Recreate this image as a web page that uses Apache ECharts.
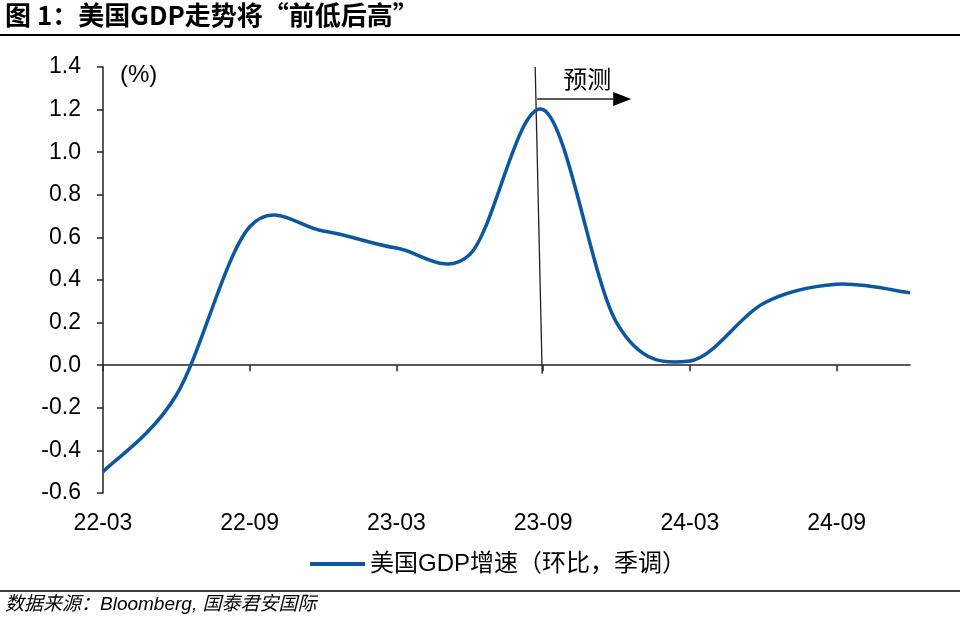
<!DOCTYPE html>
<html>
<head>
<meta charset="utf-8">
<script src="https://cdn.jsdelivr.net/npm/echarts@6/dist/echarts.min.js"></script>
<style>
html,body{margin:0;padding:0;background:#fff;}
#c{width:960px;height:617px;}
</style>
</head>
<body>
<div id="c"></div>
<script>
const categories = ['22-03','22-06','22-09','22-12','23-03','23-06','23-09','23-12','24-03','24-06','24-09','24-12'];
const gdpQoQ = [-0.50, -0.14, 0.65, 0.63, 0.55, 0.52, 1.20, 0.20, 0.02, 0.29, 0.38, 0.34];
const seriesName = '美国GDP增速（环比，季调）';
const titleText = '图 1：美国GDP走势将“前低后高”';
const sourceText = '数据来源：Bloomberg, 国泰君安国际';
const unitText = '(%)';
const forecastText = '预测';
const forecastStart = '23-09';

const FONT = '"Liberation Sans", Arial, "Noto Sans CJK SC", sans-serif';
const CJK_FONT = '"Noto Sans CJK SC", "Liberation Sans", sans-serif';
const LINE_COLOR = '#0B57A0';

// Smooth curve through every point (Catmull-Rom → Bezier), drawn in pixel space via the axes
function renderSmoothLine(params, api) {
  if (params.dataIndex !== 0) return null;
  const pts = gdpQoQ.map((v, i) => api.coord([i, v]));
  const n = pts.length;
  let d = 'M' + pts[0][0] + ' ' + pts[0][1];
  for (let i = 0; i < n - 1; i++) {
    const p0 = pts[Math.max(i - 1, 0)];
    const p1 = pts[i];
    const p2 = pts[i + 1];
    const p3 = pts[Math.min(i + 2, n - 1)];
    const c1x = p1[0] + (p2[0] - p0[0]) / 6;
    const c1y = p1[1] + (p2[1] - p0[1]) / 6;
    const c2x = p2[0] - (p3[0] - p1[0]) / 6;
    const c2y = p2[1] - (p3[1] - p1[1]) / 6;
    d += ' C' + c1x + ' ' + c1y + ' ' + c2x + ' ' + c2y + ' ' + p2[0] + ' ' + p2[1];
  }
  return {
    type: 'path',
    shape: { pathData: d },
    style: { fill: 'none', stroke: LINE_COLOR, lineWidth: 3.5, lineJoin: 'round', lineCap: 'butt' }
  };
}

const chart = echarts.init(document.getElementById('c'));
const option = {
  animation: false,
  backgroundColor: '#fff',
  textStyle: { fontFamily: FONT, color: '#000' },
  grid: { left: 103, right: 50, top: 67, bottom: 124, containLabel: false },
  legend: {
    data: [seriesName],
    top: 547,
    left: 305,
    icon: 'rect',
    itemWidth: 55,
    itemHeight: 4,
    itemGap: 10,
    textStyle: { fontSize: 24, color: '#000', fontFamily: FONT }
  },
  xAxis: [
    {
      type: 'category',
      data: categories,
      boundaryGap: false,
      position: 'bottom',
      axisLine: { show: false, onZero: false },
      axisTick: { show: false },
      axisLabel: { interval: 1, fontSize: 23, color: '#000', margin: 19, fontFamily: FONT },
      splitLine: { show: false }
    },
    {
      type: 'category',
      data: categories,
      boundaryGap: false,
      position: 'top',
      axisLine: { show: true, onZero: true, lineStyle: { color: '#222', width: 1.5 } },
      axisTick: { show: true, inside: true, interval: 1, length: 6, lineStyle: { color: '#222', width: 1.5 } },
      axisLabel: { show: false },
      splitLine: { show: false }
    }
  ],
  yAxis: {
    type: 'value',
    min: -0.6,
    max: 1.4,
    interval: 0.2,
    axisLine: { show: true, lineStyle: { color: '#222', width: 1.5 } },
    axisTick: { show: true, length: 6, lineStyle: { color: '#222', width: 1.5 } },
    axisLabel: { fontSize: 23, color: '#000', margin: 22, fontFamily: FONT,
      formatter: v => v.toFixed(1) },
    splitLine: { show: false }
  },
  series: [{
    name: seriesName,
    type: 'custom',
    xAxisIndex: 0,
    yAxisIndex: 0,
    data: gdpQoQ.map((v, i) => [i, v]),
    encode: { x: 0, y: 1 },
    renderItem: renderSmoothLine,
    itemStyle: { color: LINE_COLOR },
    clip: false
  }]
};
chart.setOption(option);

// annotations positioned from axis scales
const xF = chart.convertToPixel({ xAxisIndex: 0 }, forecastStart);
const yTop = chart.convertToPixel({ yAxisIndex: 0 }, 1.4);
const yBot = chart.convertToPixel({ yAxisIndex: 0 }, -0.04);
const yArrow = chart.convertToPixel({ yAxisIndex: 0 }, 1.25);

chart.setOption({
  graphic: [
    { type: 'text', left: 5, top: 2, style: { text: titleText, font: 'bold 26px ' + CJK_FONT, fill: '#000' } },
    { type: 'line', shape: { x1: 0, y1: 35, x2: 960, y2: 35 }, style: { stroke: '#000', lineWidth: 2 } },
    { type: 'text', left: 120, top: 63, style: { text: unitText, font: '24px ' + FONT, fill: '#000' } },
    { type: 'line', shape: { x1: xF - 8, y1: yTop, x2: xF - 1, y2: yBot }, style: { stroke: '#222', lineWidth: 1.3 } },
    { type: 'line', shape: { x1: xF - 6, y1: yArrow, x2: xF + 72, y2: yArrow }, style: { stroke: '#222', lineWidth: 1.5 } },
    { type: 'polygon', shape: { points: [[xF + 70, yArrow - 7], [xF + 88, yArrow], [xF + 70, yArrow + 7]] }, style: { fill: '#000' } },
    { type: 'text', x: xF + 44, y: yArrow - 8, style: { text: forecastText, font: '24px "Noto Sans CJK SC", sans-serif', fill: '#000', align: 'center', verticalAlign: 'bottom' } },
    { type: 'line', shape: { x1: 0, y1: 591, x2: 960, y2: 591 }, style: { stroke: '#000', lineWidth: 1.5 } },
    { type: 'text', left: 5, top: 595, style: { text: sourceText, font: 'italic 19px ' + FONT, fill: '#000' } }
  ]
});
</script>
</body>
</html>
